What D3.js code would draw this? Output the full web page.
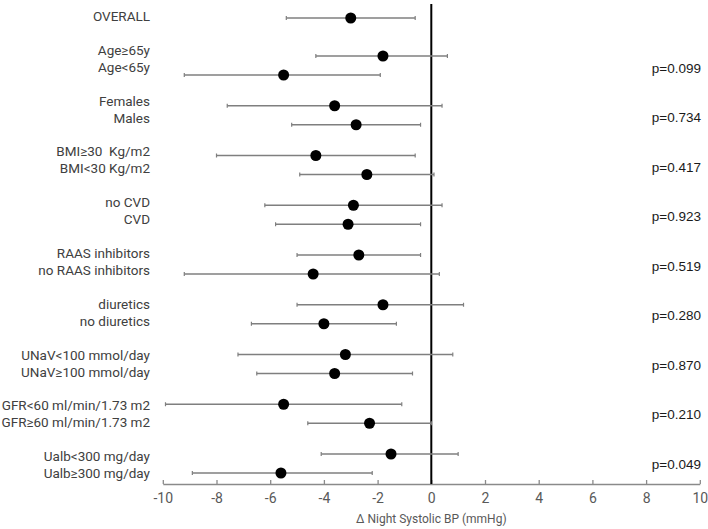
<!DOCTYPE html>
<html>
<head>
<meta charset="utf-8">
<script src="https://cdn.jsdelivr.net/npm/d3@7"></script>
<style>
  body { margin: 0; background: #fff; }
  svg { display: block; }
</style>
</head>
<body>
<div id="chart"></div>
<script>
// subgroup labels, one pair per comparison (first one is overall)
const overallLabel = "OVERALL";
const groupLabels = [
  ["Age≥65y", "Age<65y"],
  ["Females", "Males"],
  ["BMI≥30  Kg/m2", "BMI<30 Kg/m2"],
  ["no CVD", "CVD"],
  ["RAAS inhibitors", "no RAAS inhibitors"],
  ["diuretics", "no diuretics"],
  ["UNaV<100 mmol/day", "UNaV≥100 mmol/day"],
  ["GFR<60 ml/min/1.73 m2", "GFR≥60 ml/min/1.73 m2"],
  ["Ualb<300 mg/day", "Ualb≥300 mg/day"]
];
// mean change and 95% CI, same order as labels
const overall = { est: -3.0, lo: -5.4, hi: -0.6 };
const estimates = [
  [-1.8, -5.5], [-3.6, -2.8], [-4.3, -2.4], [-2.9, -3.1], [-2.7, -4.4],
  [-1.8, -4.0], [-3.2, -3.6], [-5.5, -2.3], [-1.5, -5.6]
];
const lower = [
  [-4.3, -9.2], [-7.6, -5.2], [-8.0, -4.9], [-6.2, -5.8], [-5.0, -9.2],
  [-5.0, -6.7], [-7.2, -6.5], [-9.9, -4.6], [-4.1, -8.9]
];
const upper = [
  [0.6, -1.9], [0.4, -0.4], [-0.6, 0.1], [0.4, -0.4], [-0.4, 0.3],
  [1.2, -1.3], [0.8, -0.7], [-1.1, 0.0], [1.0, -2.2]
];
const pValues = ["p=0.099", "p=0.734", "p=0.417", "p=0.923", "p=0.519",
                 "p=0.280", "p=0.870", "p=0.210", "p=0.049"];
const xTicks = [-10, -8, -6, -4, -2, 0, 2, 4, 6, 8, 10];
const xTitle = "Δ Night Systolic BP (mmHg)";

const width = 708, height = 529;
const font = "Roboto, 'Open Sans', sans-serif";
const svg = d3.select("#chart").append("svg")
  .attr("width", width).attr("height", height);

const x = d3.scaleLinear().domain([-10, 10]).range([162.8, 699.8]);
const axisY = 484;

// row layout: group index -> y of first row, pair offset within a group
const gy = d3.scaleLinear().domain([0, 8]).range([56, 454]);
const labelY = d3.scaleLinear().domain([0, 8]).range([50, 456.5]);
const pY = d3.scaleLinear().domain([0, 8]).range([68, 464]);
const pairGap = 19, labelGap = 17;

// flatten rows for the marks
const rows = [{ label: overallLabel, ...overall, y: 18, ly: 16 }];
groupLabels.forEach((pair, g) => {
  pair.forEach((lab, k) => {
    rows.push({
      label: lab, est: estimates[g][k], lo: lower[g][k], hi: upper[g][k],
      y: gy(g) + k * pairGap, ly: labelY(g) + k * labelGap
    });
  });
});

// axis
const axis = svg.append("g")
  .attr("transform", `translate(0,${axisY})`)
  .call(d3.axisBottom(x).tickValues(xTicks).tickFormat(d => String(d))
    .tickSizeInner(-4).tickSizeOuter(0).tickPadding(9));
axis.select(".domain").attr("stroke", "#8a8a8a").attr("stroke-width", 1.3);
axis.selectAll(".tick line").attr("stroke", "#8a8a8a").attr("stroke-width", 1.3);
axis.selectAll(".tick text")
  .attr("fill", "#595959")
  .attr("font-family", font)
  .attr("font-size", 14);

svg.append("text")
  .attr("x", x(0)).attr("y", 523)
  .attr("text-anchor", "middle")
  .attr("fill", "#595959")
  .attr("font-family", font)
  .attr("font-size", 12)
  .text(xTitle);

// zero line
svg.append("line")
  .attr("x1", x(0)).attr("x2", x(0))
  .attr("y1", 4).attr("y2", axisY)
  .attr("stroke", "#000").attr("stroke-width", 2);

// error bars
const bars = svg.append("g").selectAll("g").data(rows).join("g");
bars.append("line")
  .attr("x1", d => x(d.lo)).attr("x2", d => x(d.hi))
  .attr("y1", d => d.y).attr("y2", d => d.y)
  .attr("stroke", "#7f7f7f").attr("stroke-width", 1.4);
bars.selectAll(".cap").data(d => [[d.lo, d.y], [d.hi, d.y]]).join("line")
  .attr("class", "cap")
  .attr("x1", d => x(d[0])).attr("x2", d => x(d[0]))
  .attr("y1", d => d[1] - 2).attr("y2", d => d[1] + 2)
  .attr("stroke", "#7f7f7f").attr("stroke-width", 1.2);
bars.append("circle")
  .attr("cx", d => x(d.est)).attr("cy", d => d.y)
  .attr("r", 5.5).attr("fill", "#000");

// row labels
svg.append("g").selectAll("text").data(rows).join("text")
  .attr("x", 150).attr("y", d => d.ly)
  .attr("dy", "0.35em")
  .attr("text-anchor", "end")
  .attr("fill", "#404040")
  .attr("font-family", font)
  .attr("font-size", 13.5)
  .style("white-space", "pre")
  .text(d => d.label);

// p values
svg.append("g").selectAll("text").data(pValues).join("text")
  .attr("x", 701).attr("y", (d, i) => pY(i))
  .attr("dy", "0.35em")
  .attr("text-anchor", "end")
  .attr("fill", "#1a1a1a")
  .attr("font-family", "'Liberation Sans', Arial, sans-serif")
  .attr("font-size", 13.5)
  .text(d => d);
</script>
</body>
</html>
